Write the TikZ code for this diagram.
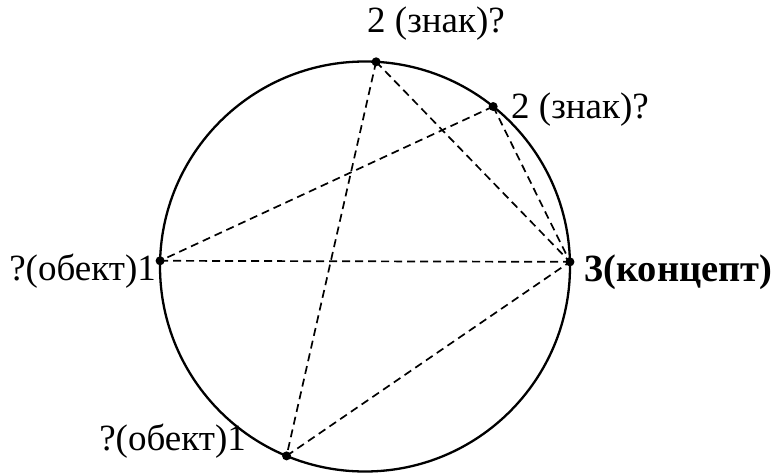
\documentclass[tikz,border=0pt]{standalone}
\usepackage{fontspec}
\setmainfont{Liberation Serif}
\usetikzlibrary{calc}
\begin{document}
\begin{tikzpicture}[x=1pt,y=1pt,
  dot/.style={circle,fill=black,inner sep=0pt,minimum size=9pt},
  lbl/.style={inner sep=0pt,font=\fontsize{37}{42}\selectfont},
  dline/.style={dashed,line width=1.7pt,dash pattern=on 8pt off 5pt},
  ring/.style={line width=2.3pt}]
\useasboundingbox (0,0) rectangle (773,475);
\coordinate (c) at (365,208.5);
\draw[ring] (c) circle (205);
\node[dot] (top) at ($(c)+(86.9:205)$) {};
\node[dot] (ur) at ($(c)+(51.3:205)$) {};
\node[dot] (lft) at ($(c)+(178.4:205)$) {};
\node[dot] (rgt) at ($(c)+(1.3:205)$) {};
\node[dot] (bot) at ($(c)+(247.5:205)$) {};
\draw[dline] (top.center) -- (bot.center);
\draw[dline] (top.center) -- (rgt.center);
\draw[dline] (ur.center) -- (lft.center);
\draw[dline] (ur.center) -- (rgt.center);
\draw[dline] (lft.center) -- (rgt.center);
\draw[dline] (bot.center) -- (rgt.center);
\node[lbl] (ltop) at (436,451) {2 (знак)?};
\node[lbl,anchor=west] (lur) at (511,365) {2 (знак)?};
\node[lbl,anchor=east] (llft) at (156,204) {?(обект)1};
\node[lbl,anchor=west,font=\fontsize{38.5}{44}\selectfont\bfseries] (lrgt) at (584,203) {3(концепт)};
\node[lbl,anchor=east] (lbot) at (246,34) {?(обект)1};
\end{tikzpicture}
\end{document}
